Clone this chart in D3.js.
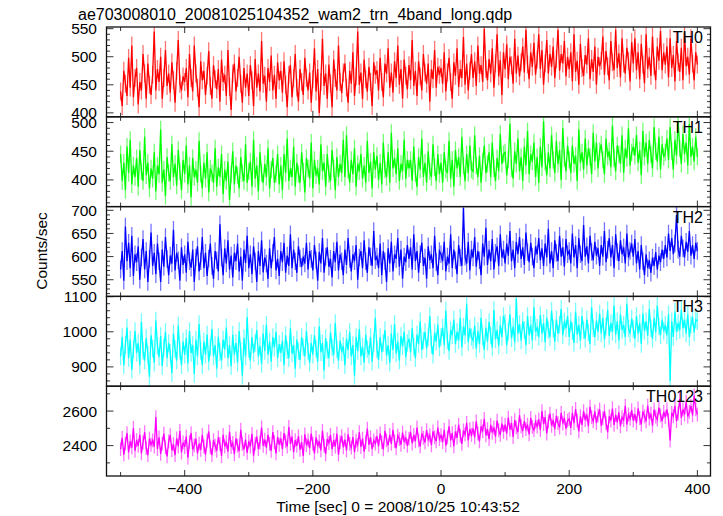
<!DOCTYPE html>
<html><head><meta charset="utf-8">
<script src="https://cdn.jsdelivr.net/npm/d3@7"></script>
<style>body{margin:0;background:#fff} text{font-family:"Liberation Sans",Arial,Helvetica,sans-serif;fill:#000}</style>
</head><body><svg id="c" width="723" height="516"></svg>
<script>
const title = "ae703008010_20081025104352_wam2_trn_4band_long.qdp";
const xLabel = "Time [sec] 0 = 2008/10/25 10:43:52";
const yLabel = "Counts/sec";
const seriesNames = ["TH0", "TH1", "TH2", "TH3", "TH0123"];
const seriesColors = ["#ff0000", "#00ff00", "#0000ff", "#00ffff", "#ff00ff"];
const timeStart = -500, timeStep = 2.5;

const th0 = [438,412,475,452,430,498,445,520,428,462,480,415,455,440,505,470,425,488,450,432,
468,545,440,478,455,500,425,462,512,448,470,436,490,458,418,475,530,452,440,465,
455,480,428,505,462,438,520,470,445,410,492,458,475,432,466,510,448,425,485,460,
442,478,420,495,455,468,430,512,446,405,470,488,438,462,500,452,418,480,445,470,
430,485,458,412,496,445,470,438,528,452,466,420,480,455,502,440,468,425,490,458,
475,436,492,450,410,468,485,428,462,505,445,420,478,455,432,498,462,440,472,418,
460,515,438,478,400,455,532,448,470,425,486,452,410,495,462,440,520,455,435,472,
488,445,418,475,452,508,430,465,545,450,472,425,495,460,438,482,455,412,490,468,
476,440,498,455,428,488,470,515,445,472,436,492,462,520,450,478,425,495,466,442,
485,458,530,448,475,430,492,465,440,505,472,452,488,420,478,460,512,445,482,468,
480,452,508,438,472,498,455,425,490,466,515,446,478,462,535,450,488,440,475,505,
462,492,448,520,470,485,455,550,478,458,496,470,515,445,488,540,465,494,432,508,
478,522,460,500,485,452,532,470,502,465,490,518,472,548,486,460,508,482,525,468,
495,540,478,512,450,488,530,470,505,482,518,462,496,548,475,505,488,528,465,500,
478,508,456,540,473,493,450,523,480,466,503,486,533,460,496,473,518,450,500,483,
493,536,468,510,483,458,528,490,476,548,480,506,463,533,488,470,516,493,456,526,
488,533,476,508,460,523,486,453,540,478,500,466,536,483,458,518,493,546,476,508,
486,518,463,533,480,503,456,528,490,473,516,458,543,483,500,468,533,488,458,508,
486];

const th1 = [445,398,430,382,458,412,470,392,425,405,438,388,452,415,398,475,408,430,385,420,
402,448,380,425,410,488,395,418,372,440,412,398,462,405,428,390,452,415,382,435,
410,460,392,425,370,438,405,418,395,468,410,385,430,402,448,378,420,412,395,455,
388,422,405,445,375,418,398,432,365,410,450,392,425,408,385,440,412,398,462,395,
415,432,388,470,402,425,380,448,412,395,428,405,455,385,418,438,395,410,445,392,
425,382,445,412,472,398,420,405,458,388,430,410,395,448,415,378,438,420,402,465,
385,435,408,420,392,462,415,430,388,445,410,398,452,420,382,440,405,428,412,470,
405,478,418,395,435,410,455,388,428,415,445,402,425,395,468,412,432,385,448,418,
442,400,430,392,465,418,405,448,395,482,420,438,410,455,398,428,415,470,402,435,
420,435,398,458,412,388,440,418,472,405,430,395,450,415,405,462,422,398,445,410,
430,395,448,418,412,468,402,435,388,452,420,440,405,475,425,398,445,412,460,418,
415,478,425,405,442,395,432,460,412,428,448,405,465,420,398,438,415,480,428,445,
448,408,435,498,420,402,450,428,472,415,440,398,458,425,485,410,445,432,465,405,
440,395,458,422,502,432,408,448,420,478,435,412,468,428,452,400,490,438,415,460,
435,412,460,428,442,398,488,430,448,418,472,425,455,440,410,482,432,465,420,450,
462,435,410,472,440,450,422,495,438,415,460,445,428,478,412,455,438,490,425,448,
458,442,478,430,452,408,485,440,465,428,470,445,420,492,450,432,475,418,462,440,
448,472,435,492,450,418,470,442,502,455,428,480,445,465,425,498,440,458,432,475,
440];

const th2 = [572,612,548,665,590,630,575,645,558,605,588,622,550,598,638,572,612,545,595,652,
580,608,562,628,590,545,615,578,642,595,560,602,585,658,570,608,592,548,620,582,
605,565,632,590,576,615,545,598,622,568,590,642,575,608,558,596,628,580,552,612,
592,568,670,598,560,618,585,635,572,602,555,608,590,628,568,600,548,615,586,645,
575,605,562,622,590,545,612,580,635,566,598,585,552,618,575,608,642,570,595,558,
612,588,630,565,602,580,648,575,615,590,565,622,596,578,600,585,630,572,612,595,
570,625,592,548,610,585,640,565,600,620,578,595,555,612,588,632,570,605,590,560,
615,582,640,595,568,605,590,625,550,598,612,575,635,590,565,620,600,580,655,592,
600,575,628,560,612,590,545,618,585,632,568,605,595,640,578,615,552,600,588,625,
595,620,572,648,590,612,565,605,630,580,598,552,622,592,605,575,645,588,560,612,
605,590,632,568,600,585,648,575,615,592,562,625,598,580,705,600,585,632,570,615,
598,642,578,612,592,560,628,600,662,582,615,590,638,572,608,622,580,648,598,615,
585,628,602,655,590,615,575,632,605,642,595,620,582,652,610,588,630,600,575,622,
605,640,592,618,580,628,598,660,585,612,575,635,608,590,645,600,620,578,638,605,
612,585,650,598,625,575,640,605,590,668,600,622,585,645,610,592,632,602,618,580,
625,600,655,588,615,640,598,625,575,648,610,590,635,605,620,585,650,598,612,628,
600,638,585,612,572,625,590,560,605,575,592,565,598,580,610,572,602,588,615,595,
625,598,650,612,640,605,628,690,615,600,645,618,598,632,610,655,602,625,595,630,
612];

const th3 = [930,985,905,962,1012,925,978,892,950,1002,940,968,905,1028,945,918,982,935,872,990,
952,912,1032,960,928,988,902,955,1000,925,968,940,882,995,950,918,1018,945,905,972,
935,982,910,1002,940,962,880,978,930,1022,945,905,972,935,992,915,955,1008,930,962,
895,985,942,918,978,950,1012,925,962,902,992,935,968,912,1002,945,875,982,930,1042,
950,918,985,940,968,1005,930,960,908,995,945,1020,935,972,915,985,955,1000,925,965,
940,975,905,990,948,925,1010,938,962,895,978,945,920,985,955,930,1002,945,912,968,
935,990,952,915,1015,942,968,890,982,948,925,998,955,935,1025,950,918,975,942,960,
905,980,948,1000,930,962,875,985,945,1008,930,958,912,992,950,935,985,915,968,1040,
950,920,985,942,968,1005,932,962,912,995,948,1022,938,972,918,988,958,1000,928,968,
980,942,1010,958,925,992,965,1030,948,975,1000,952,985,1045,962,935,998,972,1020,955,
985,1012,962,1060,975,945,1005,990,1035,965,1000,975,1040,955,1015,990,1080,970,1010,985,
975,1018,952,1002,965,1040,985,948,1012,972,1028,990,955,1062,978,1005,960,1020,985,1045,
1025,962,1000,1050,982,1015,970,1095,995,1022,975,1030,1005,962,1045,990,1020,975,1070,1000,
1012,985,1048,995,1025,970,1040,1005,985,1060,1010,972,1035,995,1020,1065,990,1030,1010,1045,
985,1030,1002,968,1058,992,1020,975,1045,1005,980,1035,998,965,1070,1010,985,1032,1000,1052,
995,1040,978,1015,1062,988,1025,1000,1075,992,1030,975,1050,1005,1020,985,1080,1010,995,1038,
1008,980,1045,995,1025,965,1052,1002,1030,988,1065,1010,980,1040,998,1075,1015,990,1035,1002,
1020,990,1050,860,1030,985,1058,1000,1025,1005,1062,1010,1035,995,1050,985,1020,1042,998,1035,
1030];

const th0123 = [2380,2445,2348,2412,2472,2360,2425,2388,2502,2370,2432,2398,2462,2355,2418,2478,2385,2345,2440,2405,
2430,2395,2565,2380,2448,2352,2412,2470,2390,2338,2425,2460,2372,2408,2345,2442,2395,2485,2360,2418,
2392,2452,2330,2422,2472,2378,2402,2440,2355,2412,2375,2462,2395,2348,2428,2482,2390,2345,2432,2400,
2370,2448,2410,2340,2462,2395,2422,2365,2480,2392,2415,2350,2442,2400,2368,2492,2410,2378,2435,2358,
2425,2395,2468,2342,2412,2452,2380,2418,2505,2398,2435,2388,2462,2410,2370,2478,2420,2355,2450,2405,
2442,2380,2472,2425,2395,2508,2410,2452,2362,2432,2398,2455,2375,2420,2340,2465,2402,2430,2385,2470,
2410,2355,2448,2395,2425,2372,2485,2400,2350,2438,2415,2462,2380,2432,2395,2470,2348,2420,2455,2390,
2435,2372,2465,2410,2388,2450,2362,2428,2405,2478,2392,2440,2365,2420,2498,2405,2448,2380,2430,2412,
2455,2395,2470,2420,2378,2485,2430,2402,2462,2410,2492,2425,2385,2458,2438,2405,2475,2420,2448,2398,
2440,2478,2412,2462,2425,2505,2430,2395,2470,2445,2418,2490,2435,2460,2402,2482,2448,2425,2505,2438,
2460,2420,2492,2400,2448,2512,2430,2472,2395,2482,2445,2520,2458,2410,2488,2465,2532,2430,2495,2462,
2500,2448,2540,2470,2425,2512,2482,2555,2460,2495,2438,2520,2475,2505,2452,2545,2488,2462,2528,2480,
2522,2470,2562,2492,2530,2450,2548,2505,2478,2575,2512,2485,2542,2495,2522,2465,2560,2508,2490,2538,
2510,2552,2490,2600,2525,2565,2470,2540,2585,2515,2548,2495,2572,2530,2505,2590,2528,2560,2498,2545,
2555,2502,2590,2530,2612,2545,2482,2570,2520,2600,2548,2580,2512,2625,2565,2540,2598,2530,2575,2610,
2515,2558,2600,2530,2478,2570,2545,2615,2520,2578,2535,2592,2512,2565,2548,2630,2522,2580,2555,2605,
2545,2582,2530,2615,2560,2522,2598,2570,2540,2632,2555,2585,2515,2608,2568,2550,2620,2575,2542,2595,
2565,2610,2550,2430,2590,2570,2630,2542,2585,2670,2560,2610,2580,2655,2568,2595,2630,2575,2690,2610,
2580];

const seriesValues = [th0, th1, th2, th3, th0123];
const errHalf = [16, 15, 19, 25, 40];
const yDomains = [[393, 553], [353.5, 510], [514, 708], [845, 1100.8], [2224, 2744]];
const yMajorTicks = [[400, 450, 500, 550], [400, 450, 500], [550, 600, 650, 700], [900, 1000, 1100], [2400, 2600]];
const yMinorStep = [10, 10, 10, 20, 100];
const xDomain = [-522, 420.5];
const xMajorTicks = [-400, -200, 0, 200, 400];
const xMinorTicks = [-500, -300, -100, 100, 300];

const svg = d3.select("#c");
const L = 106.5, R = 710.5, T = 27, B = 476;
const nP = seriesValues.length;
const pH = (B - T) / nP;
const x = d3.scaleLinear().domain(xDomain).range([L, R]);
const fmt = v => (v < 0 ? "\u2212" + Math.abs(v) : String(v));

seriesValues.forEach((vals, p) => {
  const top = T + p * pH, bot = top + pH;
  const y = d3.scaleLinear().domain(yDomains[p]).range([bot, top]);
  const data = vals.map((v, i) => ({t: timeStart + i * timeStep, v}));
  const g = svg.append("g");
  const cid = "clip" + p;
  svg.append("clipPath").attr("id", cid).append("rect")
    .attr("x", L).attr("y", top).attr("width", R - L).attr("height", pH);
  const dg = g.append("g").attr("clip-path", `url(#${cid})`);
  const col = seriesColors[p];
  dg.selectAll("line.err").data(data).join("line")
    .attr("x1", d => x(d.t)).attr("x2", d => x(d.t))
    .attr("y1", d => y(d.v - errHalf[p])).attr("y2", d => y(d.v + errHalf[p]))
    .attr("stroke", col).attr("stroke-opacity", 0.55).attr("stroke-width", 1.3);
  dg.append("path").datum(data)
    .attr("d", d3.line().x(d => x(d.t)).y(d => y(d.v)))
    .attr("fill", "none").attr("stroke", col).attr("stroke-width", 1.3);

  const tk = g.append("g").attr("stroke", "#333").attr("stroke-width", 1);
  xMajorTicks.forEach(t => {
    tk.append("line").attr("x1", x(t)).attr("x2", x(t)).attr("y1", bot).attr("y2", bot - 6);
    tk.append("line").attr("x1", x(t)).attr("x2", x(t)).attr("y1", top).attr("y2", top + 6);
  });
  xMinorTicks.forEach(t => {
    tk.append("line").attr("x1", x(t)).attr("x2", x(t)).attr("y1", bot).attr("y2", bot - 4);
    tk.append("line").attr("x1", x(t)).attr("x2", x(t)).attr("y1", top).attr("y2", top + 4);
  });
  const [d0, d1] = yDomains[p];
  const st = yMinorStep[p];
  d3.range(Math.ceil(d0 / st) * st, d1 + 0.001, st).forEach(v => {
    const major = yMajorTicks[p].includes(v);
    const len = major ? 7 : 3.5;
    tk.append("line").attr("x1", L).attr("x2", L + len).attr("y1", y(v)).attr("y2", y(v));
    tk.append("line").attr("x1", R).attr("x2", R - len).attr("y1", y(v)).attr("y2", y(v));
  });
  yMajorTicks[p].forEach(v => {
    g.append("text").attr("x", 97).attr("y", y(v)).attr("dy", "0.36em")
      .attr("text-anchor", "end").attr("font-size", 15.5).text(v);
  });
  g.append("rect").attr("x", L).attr("y", top).attr("width", R - L).attr("height", pH)
    .attr("fill", "none").attr("stroke", "#111").attr("stroke-width", 1.3);
  g.append("text").attr("x", 703).attr("y", top + 16).attr("text-anchor", "end")
    .attr("font-size", 16).text(seriesNames[p]);
});

xMajorTicks.forEach(t => {
  svg.append("text").attr("x", x(t)).attr("y", 494).attr("text-anchor", "middle")
    .attr("font-size", 15.5).text(fmt(t));
});
svg.append("text").attr("x", 398).attr("y", 512).attr("text-anchor", "middle")
  .attr("font-size", 15.5).text(xLabel);
svg.append("text").attr("x", 78).attr("y", 20).attr("font-size", 16).text(title);
svg.append("text").attr("transform", "translate(47,251) rotate(-90)")
  .attr("text-anchor", "middle").attr("font-size", 15.5).text(yLabel);
</script></body></html>
